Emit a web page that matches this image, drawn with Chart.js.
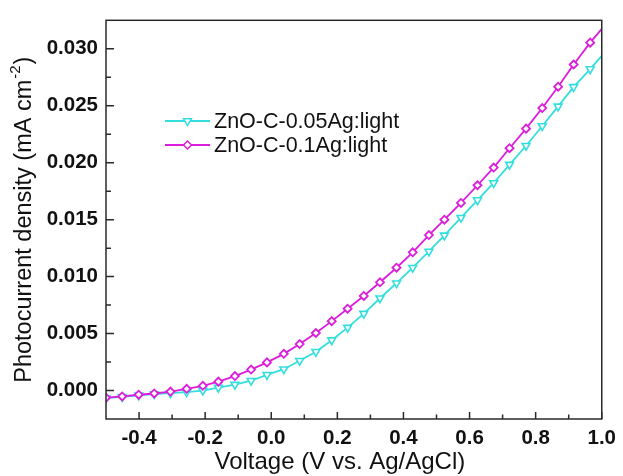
<!DOCTYPE html>
<html>
<head>
<meta charset="utf-8">
<script src="https://cdn.jsdelivr.net/npm/chart.js@4.4.1/dist/chart.umd.min.js"></script>
<style>
  html, body { margin: 0; padding: 0; background: #fff; }
  #wrap { width: 623px; height: 476px; }
</style>
</head>
<body>
<div id="wrap"><canvas id="ivChart" width="623" height="476"></canvas></div>
<script>
// Data (V vs. Ag/AgCl, mA cm^-2)
const voltage = [-0.5, -0.451, -0.401, -0.354, -0.305, -0.256, -0.207, -0.160, -0.110, -0.061,
  -0.013, 0.038, 0.086, 0.135, 0.183, 0.231, 0.280, 0.329, 0.379, 0.428,
  0.477, 0.524, 0.574, 0.624, 0.673, 0.721, 0.771, 0.820, 0.868, 0.915, 0.965, 1.0];
const density005Ag = [-0.00066, -0.00055, -0.00042, -0.00031, -0.00022, -0.00014, 0.0, 0.00025, 0.00052, 0.00086,
  0.00138, 0.00187, 0.00262, 0.0034, 0.00442, 0.00552, 0.00675, 0.0081, 0.00942, 0.01078,
  0.01221, 0.01362, 0.01517, 0.01672, 0.01822, 0.01983, 0.02149, 0.02322, 0.02494, 0.02666, 0.02822, 0.02937];
const density01Ag = [-0.00063, -0.00052, -0.00037, -0.00026, -0.00009, 0.00015, 0.00041, 0.00078, 0.00127, 0.00184,
  0.00247, 0.00322, 0.00408, 0.00505, 0.00609, 0.00718, 0.0083, 0.0095, 0.01078, 0.01213,
  0.01365, 0.0150, 0.01647, 0.01802, 0.01957, 0.02127, 0.02299, 0.0248, 0.02667, 0.02862, 0.03054, 0.03175];
const seriesLabels = ['ZnO-C-0.05Ag:light', 'ZnO-C-0.1Ag:light'];
const xTicks = [-0.4, -0.2, 0.0, 0.2, 0.4, 0.6, 0.8, 1.0];
const xMinorTicks = [-0.3, -0.1, 0.1, 0.3, 0.5, 0.7, 0.9];
const yTicks = [0.000, 0.005, 0.010, 0.015, 0.020, 0.025, 0.030];
const yMinorTicks = [0.0025, 0.0075, 0.0125, 0.0175, 0.0225, 0.0275];
const xTitle = 'Voltage (V vs. Ag/AgCl)';
const yTitle = ['Photocurrent density (mA cm', '-2', ')'];

const FONT = "'Liberation Sans', Arial, sans-serif";
const CYAN = '#35dede';
const MAGENTA = '#dc1edc';

const toPoints = ys => voltage.map((v, i) => ({ x: v, y: ys[i] }));
// the last sample (at 1.0 V) only carries the line, no symbol
const lastIdx = voltage.length - 1;

const decorations = {
    id: 'decorations',
    afterDatasetsDraw(chart) {
        const { ctx, chartArea: a, scales: { x, y } } = chart;
        ctx.save();

        // frame
        ctx.strokeStyle = '#2a2a2a';
        ctx.lineWidth = 1.5;
        ctx.strokeRect(a.left, a.top, a.right - a.left, a.bottom - a.top);

        // inward ticks on bottom and left
        ctx.beginPath();
        xTicks.forEach(v => { const px = x.getPixelForValue(v); ctx.moveTo(px, a.bottom); ctx.lineTo(px, a.bottom - 7); });
        xMinorTicks.forEach(v => { const px = x.getPixelForValue(v); ctx.moveTo(px, a.bottom); ctx.lineTo(px, a.bottom - 4.5); });
        yTicks.forEach(v => { const py = y.getPixelForValue(v); ctx.moveTo(a.left, py); ctx.lineTo(a.left + 8, py); });
        yMinorTicks.forEach(v => { const py = y.getPixelForValue(v); ctx.moveTo(a.left, py); ctx.lineTo(a.left + 5, py); });
        ctx.stroke();

        // x title
        ctx.fillStyle = '#111';
        ctx.font = `24px ${FONT}`;
        ctx.textAlign = 'center';
        ctx.textBaseline = 'middle';
        ctx.fillText(xTitle, (a.left + a.right) / 2 - 14, 462);

        // y title with superscript
        ctx.save();
        ctx.translate(25, (a.top + a.bottom) / 2);
        ctx.rotate(-Math.PI / 2);
        ctx.textAlign = 'left';
        ctx.textBaseline = 'middle';
        const big = `23.5px ${FONT}`, small = `15px ${FONT}`;
        ctx.font = big; const w1 = ctx.measureText(yTitle[0]).width; const w3 = ctx.measureText(yTitle[2]).width;
        ctx.font = small; const w2 = ctx.measureText(yTitle[1]).width;
        let cx = -(w1 + w2 + w3 + 2) / 2;
        ctx.font = big; ctx.fillText(yTitle[0], cx, 0); cx += w1 + 1;
        ctx.font = small; ctx.fillText(yTitle[1], cx, -9); cx += w2 + 1;
        ctx.font = big; ctx.fillText(yTitle[2], cx, 0);
        ctx.restore();

        // legend: line + symbol + label
        const rows = [chart.data.datasets[1], chart.data.datasets[0]];
        rows.forEach((ds, i) => {
            const ly = 121 + i * 24;
            ctx.strokeStyle = ds.borderColor;
            ctx.lineWidth = 2;
            ctx.beginPath(); ctx.moveTo(165, ly); ctx.lineTo(210, ly); ctx.stroke();
            ctx.fillStyle = '#fff';
            ctx.lineWidth = 1.5;
            Chart.helpers.drawPoint(ctx, { pointStyle: ds.pointStyle, rotation: ds.pointRotation || 0, radius: ds.pointRadiusBase, borderWidth: 1.5 }, 187.5, ly);
            ctx.fillStyle = '#111';
            ctx.font = `21.5px ${FONT}`;
            ctx.textAlign = 'left';
            ctx.textBaseline = 'middle';
            ctx.fillText(ds.label, 214, ly + 1);
        });

        ctx.restore();
    }
};

new Chart(document.getElementById('ivChart'), {
    type: 'line',
    data: {
        datasets: [
            {
                label: seriesLabels[1],
                data: toPoints(density01Ag),
                borderColor: MAGENTA,
                backgroundColor: '#fff',
                borderWidth: 1.8,
                pointStyle: 'rectRot',
                pointRadiusBase: 4,
                pointRadius: c => c.dataIndex === lastIdx ? 0 : 4,
                pointBorderWidth: 1.8,
                pointBorderColor: MAGENTA,
                pointBackgroundColor: '#fff',
                tension: 0,
                order: 1
            },
            {
                label: seriesLabels[0],
                data: toPoints(density005Ag),
                borderColor: CYAN,
                backgroundColor: '#fff',
                borderWidth: 1.8,
                pointStyle: 'triangle',
                pointRotation: 180,
                pointRadiusBase: 4.5,
                pointRadius: c => c.dataIndex === lastIdx ? 0 : 4.5,
                pointBorderWidth: 1.6,
                pointBorderColor: CYAN,
                pointBackgroundColor: '#fff',
                tension: 0,
                order: 2
            }
        ]
    },
    options: {
        responsive: false,
        animation: false,
        devicePixelRatio: 1,
        layout: { padding: { left: 0, right: 18, top: 13, bottom: 0 } },
        plugins: { legend: { display: false }, tooltip: { enabled: false } },
        scales: {
            x: {
                type: 'linear',
                min: -0.5,
                max: 1.0,
                grid: { display: false, drawTicks: false },
                border: { display: false },
                afterBuildTicks: s => { s.ticks = xTicks.map(v => ({ value: v })); },
                afterFit: s => { s.height = 57; },
                ticks: {
                    padding: 7,
                    color: '#111',
                    font: { family: FONT, size: 20.5, weight: 'bold' },
                    callback: v => v.toFixed(1)
                }
            },
            y: {
                type: 'linear',
                min: -0.0025,
                max: 0.0325,
                grid: { display: false, drawTicks: false },
                border: { display: false },
                afterBuildTicks: s => { s.ticks = yTicks.map(v => ({ value: v })); },
                afterFit: s => { s.width = 106; },
                ticks: {
                    padding: 8,
                    color: '#111',
                    font: { family: FONT, size: 20.5, weight: 'bold' },
                    callback: v => v.toFixed(3)
                }
            }
        }
    },
    plugins: [decorations]
});
</script>
</body>
</html>
